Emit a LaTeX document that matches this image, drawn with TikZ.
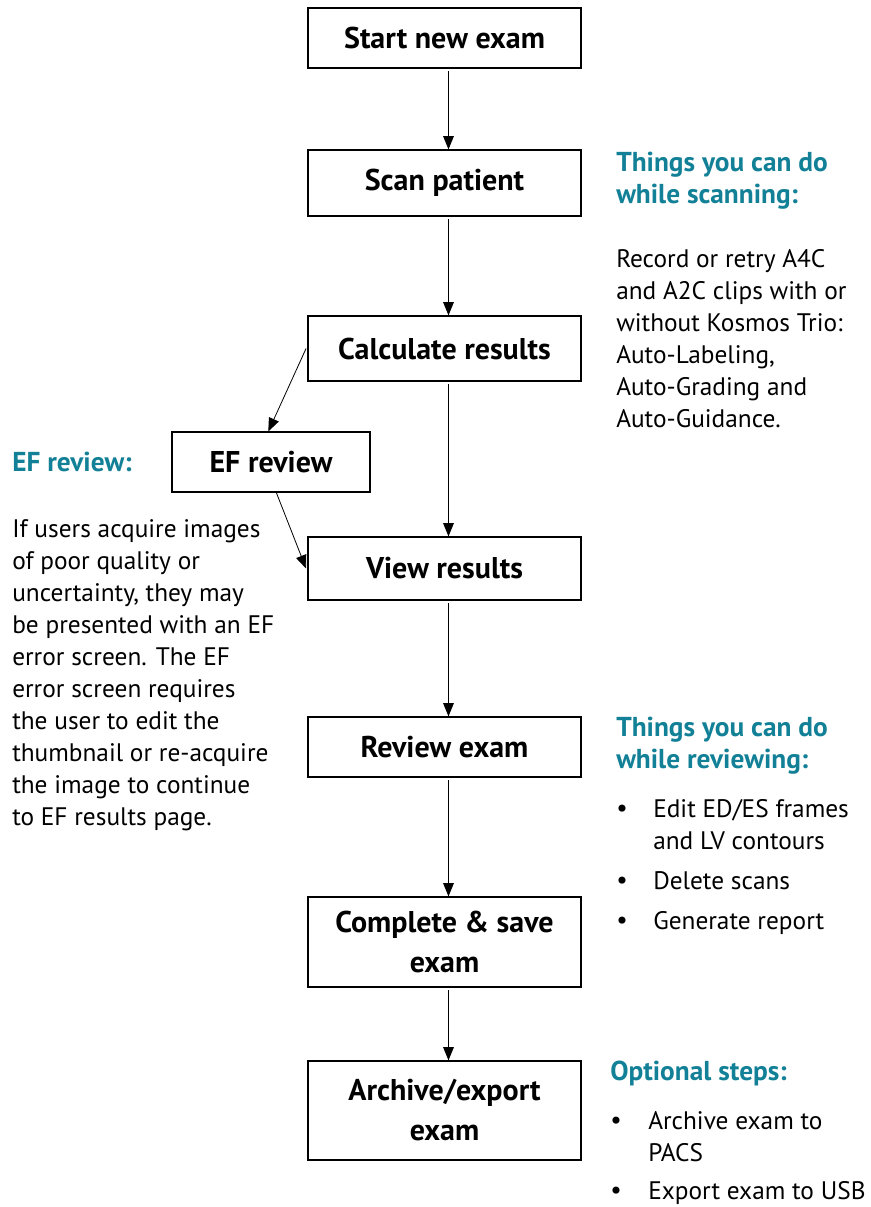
\documentclass[tikz,border=0pt]{standalone}
\usepackage{fontspec}
\setmainfont{PT Sans}
\usetikzlibrary{arrows.meta}
\definecolor{teal1}{RGB}{18,128,150}
\begin{document}
\begin{tikzpicture}[x=0.75pt,y=-0.75pt,
  box/.style={draw, line width=0.9pt, font=\bfseries\fontsize{22.5}{30}\selectfont, inner sep=0, align=center, minimum width=273*0.75pt},
  arr/.style={-{Triangle[length=10pt,width=8pt]}, line width=0.8pt},
  head/.style={font=\bfseries\fontsize{20.5}{24}\selectfont, text=teal1, anchor=north west, inner sep=0, align=left},
  body/.style={font=\fontsize{19}{24}\selectfont, anchor=north west, inner sep=0, align=left},
  dot/.style={font=\fontsize{19}{24}\selectfont, anchor=north west, inner sep=0}]
\useasboundingbox (0,0) rectangle (871,1207);
% boxes
\node[box, minimum height=60*0.75pt] (start) at (444.5,38) {Start new exam};
\node[box, minimum height=66*0.75pt] (scan) at (444.5,183) {Scan patient};
\node[box, minimum height=65*0.75pt] (calc) at (444.5,348.5) {Calculate results};
\node[box, minimum height=60*0.75pt, minimum width=198*0.75pt] (ef) at (271,462) {EF review};
\node[box, minimum height=63*0.75pt] (view) at (444.5,568.5) {View results};
\node[box, minimum height=60*0.75pt] (review) at (444.5,747) {Review exam};
\node[box, minimum height=90*0.75pt] (complete) at (444.5,942) {Complete \& save\\exam};
\node[box, minimum height=99*0.75pt] (archive) at (444.5,1110.5) {Archive/export\\exam};
% arrows
\draw[arr] ([xshift=3pt,yshift=-2pt]start.south) -- ([xshift=3pt]scan.north);
\draw[arr] ([xshift=3pt,yshift=-2pt]scan.south) -- ([xshift=3pt]calc.north);
\draw[arr] ([xshift=3pt,yshift=-2pt]calc.south) -- ([xshift=3pt]view.north);
\draw[arr] ([xshift=3pt,yshift=-2pt]view.south) -- ([xshift=3pt]review.north);
\draw[arr] ([xshift=3pt,yshift=-2pt]review.south) -- ([xshift=3pt]complete.north);
\draw[arr] ([xshift=3pt,yshift=-2pt]complete.south) -- ([xshift=3pt]archive.north);
\draw[arr, line width=0.6pt] ([xshift=-1pt]calc.west) -- ([xshift=-2pt]ef.north);
\draw[arr, line width=0.6pt] ([xshift=4pt]ef.south) -- ([xshift=-1pt]view.west);
% right texts
\node[head] (h1) at (616,152) {Things you can do\\while scanning:};
\node[body] (b1) at (616,249) {Record or retry A4C\\and A2C clips with or\\without Kosmos Trio:\\Auto-Labeling,\\Auto-Grading and\\Auto-Guidance.};
\node[head] (h2) at (12,452) {EF review:};
\node[body] (b2) at (12,519) {If users acquire images\\of poor quality or\\uncertainty, they may\\be presented with an EF\\error screen. The EF\\error screen requires\\the user to edit the\\thumbnail or re-acquire\\the image to continue\\to EF results page.};
\node[head] (h3) at (616,717) {Things you can do\\while reviewing:};
\node[dot] (d1) at (616,805) {\textbullet};
\node[body] (t1) at (653,799) {Edit ED/ES frames\\and LV contours};
\node[dot] (d2) at (616,877) {\textbullet};
\node[body] (t2) at (653,871) {Delete scans};
\node[dot] (d3) at (616,917) {\textbullet};
\node[body] (t3) at (653,911) {Generate report};
\node[head] (h4) at (610,1061) {Optional steps:};
\node[dot] (d4) at (610,1117) {\textbullet};
\node[body] (t4) at (648,1111) {Archive exam to\\PACS};
\node[dot] (d5) at (610,1187) {\textbullet};
\node[body] (t5) at (648,1181) {Export exam to USB};
\end{tikzpicture}
\end{document}
